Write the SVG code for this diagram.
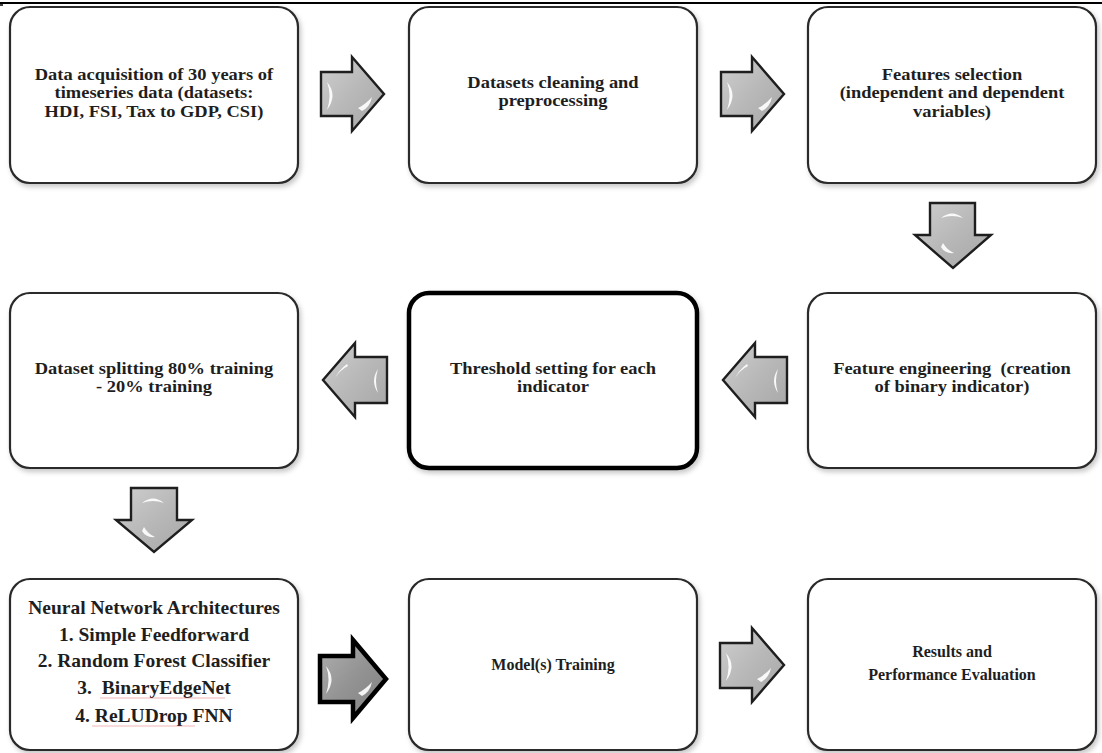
<svg xmlns="http://www.w3.org/2000/svg" width="1102" height="753" viewBox="0 0 1102 753">
<defs>
<style>
.box{fill:#fff;stroke:#2a2a2a;stroke-width:2.2;filter:url(#sh)}
.thick{stroke:#000;stroke-width:4.5}
.t{font-family:"Liberation Serif","Times New Roman",serif;font-weight:bold;font-size:16.5px;fill:#1e1e1e;text-anchor:middle}
.big{font-size:19.5px}
.sm{font-size:16px}
.arr{fill:url(#g);stroke:#1e1e1e;stroke-width:2.4;stroke-linejoin:miter}
.arrk{fill:url(#gd);stroke:#000;stroke-width:4.5;stroke-linejoin:miter}
.hl{fill:#fff;opacity:0.9}
.sq{fill:none;stroke:#e06060;stroke-width:0.8;opacity:0.6}
</style>
<filter id="sh" x="-10%" y="-10%" width="125%" height="125%">
<feDropShadow dx="2" dy="3" stdDeviation="2.5" flood-color="#000" flood-opacity="0.22"/>
</filter>
<linearGradient id="g" x1="0" y1="0" x2="1" y2="1">
<stop offset="0" stop-color="#cfcfcf"/>
<stop offset="0.5" stop-color="#b8b8b8"/>
<stop offset="1" stop-color="#a6a6a6"/>
</linearGradient>
<linearGradient id="gd" x1="0" y1="0" x2="1" y2="1">
<stop offset="0" stop-color="#b0b0b0"/>
<stop offset="0.5" stop-color="#939393"/>
<stop offset="1" stop-color="#808080"/>
</linearGradient>
</defs>
<rect width="1102" height="753" fill="#fff"/>
<line x1="0" y1="3" x2="1102" y2="3" stroke="#000" stroke-width="2"/>
<line x1="0" y1="5" x2="3" y2="5" stroke="#000" stroke-width="1.5"/>

<g id="connectors">
<path class="arr" d="M321,72 H352 V57 L384,94 L352,131 V116 H321 Z"/>
<path class="hl" d="M327,82 Q338,95 327,110 Q332,95 327,82 Z"/>
<path class="hl" d="M358,108 Q366,104 372,97 Q370,107 362,111 Z"/>
<path class="arr" d="M721,72 H752 V57 L784,94 L752,131 V116 H721 Z"/>
<path class="hl" d="M727,82 Q738,95 727,110 Q732,95 727,82 Z"/>
<path class="hl" d="M758,108 Q766,104 772,97 Q770,107 762,111 Z"/>
<path class="arr" d="M930,203 H975 V235 H991 L953,268 L915,235 H930 Z"/>
<path class="hl" d="M941,218 Q952,209 963,218 Q952,214 941,218 Z"/>
<path class="hl" d="M943,243 Q947,250 954,253 Q945,254 941,247 Z"/>
<path class="arr" d="M387,357 H355 V343 L323,380 L355,417 V403 H387 Z"/>
<path class="hl" d="M378,369 Q370,381 378,393 Q374,381 378,369 Z"/>
<path class="hl" d="M348,366 Q340,370 335,378 Q339,370 347,364 Z"/>
<path class="arr" d="M787,357 H755 V343 L723,380 L755,417 V403 H787 Z"/>
<path class="hl" d="M778,369 Q770,381 778,393 Q774,381 778,369 Z"/>
<path class="hl" d="M748,366 Q740,370 735,378 Q739,370 747,364 Z"/>
<path class="arr" d="M131,488 H177 V520 H192 L154,552 L116,520 H131 Z"/>
<path class="hl" d="M142,503 Q153,494 164,503 Q153,499 142,503 Z"/>
<path class="hl" d="M144,527 Q148,534 155,537 Q146,538 142,531 Z"/>
<path class="arrk" d="M320,656 H353 V640 L386,679 L353,718 V702 H320 Z"/>
<path class="hl" d="M326,666 Q337,679 326,694 Q331,679 326,666 Z"/>
<path class="hl" d="M358,693 Q366,689 372,682 Q370,692 362,696 Z"/>
<path class="arr" d="M720,643 H752 V628 L784,665 L752,702 V688 H720 Z"/>
<path class="hl" d="M726,653 Q737,666 726,681 Q731,666 726,653 Z"/>
<path class="hl" d="M757,679 Q765,675 771,668 Q769,678 761,682 Z"/>
</g>

<g id="n1"><rect class="box" x="10" y="7" width="288" height="176" rx="20"/>
<text class="t" transform="translate(154 0) scale(1.12 1)" x="0" y="80">Data acquisition of 30 years of<tspan x="0" dy="18.5">timeseries data (datasets:</tspan><tspan x="0" dy="18.5">HDI, FSI, Tax to GDP, CSI)</tspan></text></g>

<g id="n2"><rect class="box" x="409" y="7" width="288" height="176" rx="20"/>
<text class="t" transform="translate(553 0) scale(1.12 1)" x="0" y="88">Datasets cleaning and<tspan x="0" dy="18.5">preprocessing</tspan></text></g>

<g id="n3"><rect class="box" x="808" y="7" width="288" height="176" rx="20"/>
<text class="t" transform="translate(952 0) scale(1.12 1)" x="0" y="80">Features selection<tspan x="0" dy="18.5">(independent and dependent</tspan><tspan x="0" dy="18.5">variables)</tspan></text></g>

<g id="n4"><rect class="box" x="10" y="293" width="288" height="175" rx="20"/>
<text class="t" transform="translate(154 0) scale(1.12 1)" x="0" y="374">Dataset splitting 80% training<tspan x="0" dy="18.5">- 20% training</tspan></text></g>

<g id="n5"><rect class="box thick" x="409" y="293" width="288" height="175" rx="20"/>
<text class="t" transform="translate(553 0) scale(1.12 1)" x="0" y="374">Threshold setting for each<tspan x="0" dy="18.5">indicator</tspan></text></g>

<g id="n6"><rect class="box" x="808" y="293" width="288" height="175" rx="20"/>
<text class="t" transform="translate(952 0) scale(1.12 1)" x="0" y="374" xml:space="preserve">Feature engineering  (creation<tspan x="0" dy="18.5">of binary indicator)</tspan></text></g>

<g id="n7"><rect class="box" x="10" y="579" width="288" height="171" rx="20"/>
<text class="t big" x="154" y="614">Neural Network Architectures<tspan x="154" dy="27">1. Simple Feedforward</tspan><tspan x="154" dy="26">2. Random Forest Classifier</tspan><tspan x="154" dy="27" xml:space="preserve">3.  BinaryEdgeNet</tspan><tspan x="154" dy="28">4. ReLUDrop FNN</tspan></text>
<path class="sq" d="M100,698 H225"/>
<path class="sq" d="M92,726 H195"/></g>

<g id="n8"><rect class="box" x="409" y="579" width="288" height="171" rx="20"/>
<text class="t sm" x="553" y="670">Model(s) Training</text></g>

<g id="n9"><rect class="box" x="808" y="579" width="288" height="171" rx="20"/>
<text class="t sm" x="952" y="657">Results and<tspan x="952" dy="23">Performance Evaluation</tspan></text></g>
</svg>
